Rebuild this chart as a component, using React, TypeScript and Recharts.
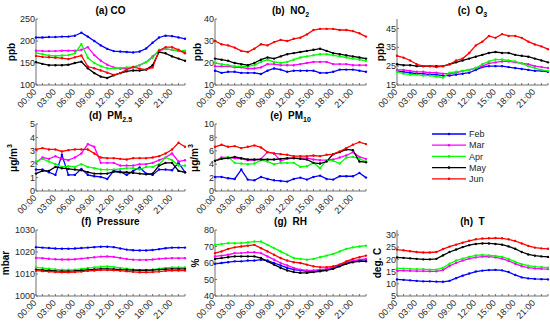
import React from 'react';
import { LineChart, Line, XAxis, YAxis } from 'recharts';

const HOURS = [0, 1, 2, 3, 4, 5, 6, 7, 8, 9, 10, 11, 12, 13, 14, 15, 16, 17, 18, 19, 20, 21, 22, 23];
const HOUR_LABELS = ['00:00', '03:00', '06:00', '09:00', '12:00', '15:00', '18:00', '21:00'];
const MONTHS = ['Feb', 'Mar', 'Apr', 'May', 'Jun'];
const COLORS: Record<string, string> = { Feb: '#0000ff', Mar: '#ff00ff', Apr: '#00ff00', May: '#000000', Jun: '#ff0000' };

// diurnal means, one value per hour
const CO = {
  Feb: [208, 208, 209, 209, 210, 210, 212, 219, 210, 200, 190, 182, 177, 176, 175, 174, 176, 183, 196, 208, 212, 211, 208, 205],
  Mar: [178, 177, 177, 177, 178, 178, 178, 180, 186, 168, 155, 146, 140, 137, 137, 140, 145, 152, 165, 178, 182, 180, 177, 175],
  Apr: [173, 170, 167, 166, 167, 168, 172, 193, 162, 150, 143, 138, 138, 139, 140, 141, 145, 152, 162, 180, 182, 180, 178, 178],
  May: [152, 148, 145, 145, 145, 146, 150, 153, 138, 127, 119, 116, 122, 127, 131, 133, 133, 135, 145, 175, 172, 165, 160, 155],
  Jun: [166, 164, 163, 162, 161, 159, 163, 167, 142, 138, 133, 128, 123, 127, 135, 141, 137, 135, 140, 178, 186, 186, 180, 172],
};
const NO2 = {
  Feb: [16.5, 15.5, 16, 16, 15.5, 15.5, 15.5, 15, 16.5, 17.5, 17, 16, 16.5, 16.5, 16.5, 16.5, 15.5, 15.5, 16, 17, 17, 17, 16.5, 16],
  Mar: [18.5, 18.5, 18.5, 18, 18, 17.5, 17.5, 18, 19.5, 19.5, 19, 19, 19, 19.5, 20, 20.5, 20.5, 20.5, 19.5, 19.5, 19.5, 19, 19, 19],
  Apr: [20, 19.5, 19, 18.5, 18.5, 18.5, 19, 20.5, 21.5, 20.5, 20, 20.5, 21.5, 22.5, 23, 23.5, 24, 24, 23.5, 23, 22.5, 22, 21.5, 21],
  May: [22, 21.5, 21, 20, 19.5, 19, 20, 21.5, 22.5, 22, 23, 24, 24.5, 25, 25.5, 26, 26.5, 25.5, 24.5, 24, 23.5, 23, 22.5, 22],
  Jun: [30, 28.5, 28, 27, 25.5, 25, 26.5, 28.5, 28, 29.5, 30.5, 30, 31, 31.5, 33, 35, 35.5, 35.5, 35.5, 35, 35, 34.5, 33.5, 32],
};
const O3 = {
  Feb: [22.5, 22, 21.5, 21, 21, 20.5, 20.5, 20, 20, 20.5, 21, 21.5, 23, 24.5, 25, 25, 25, 24.5, 24, 23.5, 23, 22.5, 22.5, 22],
  Mar: [23, 23, 22.5, 22, 22, 21.5, 21.5, 21, 21, 21.5, 22.5, 23, 24, 25, 26.5, 27, 27.5, 27.5, 27, 26.5, 26, 25, 24.5, 24],
  Apr: [22, 21, 20.5, 20.5, 20, 20, 19.5, 19, 21.5, 22, 22.5, 23, 24, 26, 27.5, 28.5, 28.5, 28, 27.5, 26.5, 25, 24, 23, 22.5],
  May: [26, 25.5, 25.5, 25, 25, 25, 25, 25, 26, 27, 28, 29, 30, 31, 32, 32.5, 32, 32, 31, 30.5, 30, 29, 28, 27],
  Jun: [30.5, 29.5, 28, 26, 25, 25, 24.5, 25, 26, 28, 29, 32, 36, 38, 41, 40, 42, 41, 41, 40, 38, 36.5, 35.5, 34],
};
const PM25 = {
  Feb: [1.6, 1.6, 1.4, 1.2, 2.7, 1.2, 1.2, 1.65, 1.2, 1.1, 1.05, 0.9, 1.5, 1.45, 1.2, 1.5, 1.75, 1.3, 1.2, 1.6, 1.6, 1.55, 2.1, 1.4],
  Mar: [2.1, 2.5, 2.4, 2.6, 2.4, 2.3, 2.5, 2.8, 3.5, 3.3, 2.1, 2.1, 2.1, 1.9, 1.9, 1.9, 2.0, 2.0, 2.1, 2.3, 2.5, 2.8, 2.2, 2.3],
  Apr: [2.2, 2.4, 2.2, 2.0, 1.8, 1.85, 1.8, 2.0, 1.8, 1.7, 1.6, 1.6, 1.6, 1.65, 1.7, 1.7, 1.6, 1.8, 1.8, 2.0, 2.5, 2.3, 1.9, 1.9],
  May: [1.3, 1.5, 1.5, 1.8, 1.7, 1.65, 1.6, 1.55, 1.4, 1.3, 1.3, 1.3, 1.45, 1.4, 1.4, 1.35, 1.3, 1.25, 1.3, 1.9, 2.1, 2.1, 1.5, 1.4],
  Jun: [3.1, 3.2, 3.1, 3.1, 2.95, 3.05, 3.1, 3.1, 3.1, 2.8, 2.5, 2.45, 2.45, 2.4, 2.35, 2.45, 2.45, 2.45, 2.5, 2.6, 2.8, 3.1, 3.6, 3.3],
};
const PM10 = {
  Feb: [2.1, 2.1, 1.9, 1.8, 3.2, 1.7, 1.6, 2.1, 1.8, 1.6, 1.5, 1.4, 1.8, 2.0, 1.7, 2.1, 2.3, 1.8, 1.7, 2.2, 2.2, 2.2, 2.7, 2.0],
  Mar: [4.5, 5.0, 5.0, 4.9, 4.8, 4.6, 4.6, 4.8, 5.8, 5.6, 4.5, 4.8, 4.9, 4.9, 4.9, 4.7, 4.6, 4.6, 4.7, 5.0, 5.3, 5.8, 5.1, 4.8],
  Apr: [4.6, 4.8, 5.1, 4.2, 4.1, 4.0, 4.1, 4.6, 4.4, 4.0, 4.2, 4.2, 4.2, 3.6, 3.7, 4.2, 3.4, 4.6, 4.5, 4.1, 5.0, 5.1, 4.8, 4.4],
  May: [4.5, 4.8, 4.9, 5.1, 4.9, 4.7, 4.7, 4.7, 4.7, 4.7, 4.8, 4.9, 4.9, 4.8, 4.7, 4.2, 4.1, 4.4, 5.5, 5.8, 6.2, 6.1, 4.4, 4.3],
  Jun: [6.6, 6.9, 6.6, 6.7, 6.4, 6.6, 6.8, 6.5, 5.8, 5.6, 5.5, 5.4, 5.2, 5.2, 5.2, 5.3, 5.2, 5.4, 5.5, 5.9, 6.4, 6.9, 7.3, 7.0],
};
const PRESSURE = {
  Feb: [1022.2, 1022, 1021.8, 1021.6, 1021.5, 1021.5, 1021.6, 1021.8, 1022, 1022.2, 1022.4, 1022.4, 1022.2, 1021.6, 1021.1, 1020.8, 1020.7, 1020.7, 1020.9, 1021.3, 1021.7, 1022, 1022, 1022],
  Mar: [1017.3, 1017.2, 1016.9, 1016.7, 1016.6, 1016.6, 1016.7, 1017, 1017.3, 1017.6, 1017.9, 1018, 1017.8, 1017.3, 1016.8, 1016.5, 1016.4, 1016.4, 1016.6, 1016.9, 1017.1, 1017.2, 1017.2, 1017.2],
  Apr: [1013, 1012.7, 1012.4, 1012.1, 1011.9, 1011.9, 1012, 1012.3, 1012.7, 1013, 1013.3, 1013.4, 1013.2, 1012.8, 1012.4, 1012, 1011.8, 1011.8, 1012, 1012.4, 1012.8, 1013, 1013, 1013],
  May: [1012, 1011.8, 1011.6, 1011.4, 1011.3, 1011.3, 1011.4, 1011.6, 1011.9, 1012.1, 1012.3, 1012.3, 1012.2, 1012, 1011.9, 1011.8, 1011.7, 1011.7, 1011.8, 1012, 1012.2, 1012.3, 1012.3, 1012.3],
  Jun: [1011.5, 1011.3, 1011.1, 1010.9, 1010.8, 1010.8, 1010.9, 1011.1, 1011.4, 1011.6, 1011.8, 1011.8, 1011.7, 1011.5, 1011.2, 1011, 1010.8, 1010.8, 1010.9, 1011.1, 1011.4, 1011.6, 1011.6, 1011.6],
};
const RH = {
  Feb: [59.5, 60, 60.5, 61, 61, 61.5, 61.5, 62, 61.5, 60, 58.5, 57, 56, 55.5, 55, 55, 55.5, 56, 57, 58.5, 60, 61, 61.5, 62],
  Mar: [64, 64.5, 65, 66, 66, 66.5, 66.5, 66, 64, 62, 60, 58.5, 57, 56, 55.5, 55.5, 56, 56.5, 57.5, 59, 60.5, 61.5, 62, 62.5],
  Apr: [71, 71.5, 72, 72, 72, 72.5, 73, 73, 71, 69, 67, 65, 63, 62.5, 62, 62.5, 63.5, 64.5, 65.5, 67, 68.5, 69.5, 70, 70.5],
  May: [62.5, 63, 63.5, 64, 64, 64, 64, 63, 61, 59, 57, 55.5, 54.5, 54, 54, 54.5, 55, 55.5, 56.5, 58, 59.5, 60.5, 61, 61],
  Jun: [66, 67, 68.5, 69.5, 70, 70.5, 71, 69, 67, 65, 63, 61.5, 60.5, 60, 59, 58, 57.5, 57.5, 58, 59, 61, 62.5, 63.5, 64.5],
};
const TEMP = {
  Feb: [11.8, 11.6, 11.4, 11.2, 11, 11, 10.9, 10.8, 11.2, 12.3, 13.3, 14.2, 15, 15.4, 15.6, 15.7, 15.5, 14.8, 13.6, 12.6, 12.2, 12, 11.9, 11.8],
  Mar: [15.5, 15.4, 15.3, 15.2, 15.2, 15.1, 15.1, 15.6, 17.3, 18.5, 19.5, 20.3, 20.8, 21.1, 21.1, 20.8, 20.3, 19.4, 18.2, 17.2, 16.6, 16.3, 16.1, 16],
  Apr: [16.3, 16.2, 16.1, 16, 16, 15.8, 15.8, 16.5, 18.2, 19.5, 20.3, 21, 21.6, 21.8, 21.6, 21.4, 21, 20.2, 19, 18, 17.4, 17, 16.8, 16.6],
  May: [20.8, 20.6, 20.4, 20.2, 20, 20, 20.2, 21.6, 23, 24, 25, 25.8, 26.3, 26.5, 26.5, 26.3, 26, 25.3, 24.3, 23, 22, 21.5, 21.2, 21],
  Jun: [24, 23.7, 23.3, 23, 22.8, 22.8, 23, 24.2, 25.2, 26, 26.8, 27.6, 28.2, 28.5, 28.6, 28.7, 28.6, 28.2, 27.5, 26.5, 25.5, 24.8, 24.5, 24.3],
};

const AXIS = '#707070';
const TEXT = '#262626';
const COLS = [{ l: 36, r: 185 }, { l: 215, r: 366 }, { l: 397, r: 548 }];
const ROWS = [{ t: 19, b: 85 }, { t: 124, b: 191 }, { t: 230, b: 296 }];

const HourTick = (props: any) => {
  const { x, y, payload } = props;
  const v = payload.value;
  if (v % 3 !== 0) return null;
  const ax = x + 1;
  const ay = y + 7.5;
  return (
    <text x={ax} y={ay} transform={`rotate(-45 ${ax} ${ay})`} textAnchor="end" fontSize={9} fill={TEXT}>
      {HOUR_LABELS[v / 3]}
    </text>
  );
};

type PanelProps = {
  series: Record<string, number[]>;
  col: number;
  row: number;
  domain: [number, number];
  ticks: number[];
  title: React.ReactNode;
  ylabel: React.ReactNode;
  ylabelX: number;
};

function Panel({ series, col, row, domain, ticks, title, ylabel, ylabelX }: PanelProps) {
  const { l, r } = COLS[col];
  const { t, b } = ROWS[row];
  const w = r - l;
  const h = b - t;
  const data = HOURS.map((hr, i) => {
    const rec: any = { hr };
    MONTHS.forEach((m) => (rec[m] = series[m][i]));
    return rec;
  });
  return (
    <>
      <div style={{ position: 'absolute', left: l - 40, top: t - 4 }}>
        <LineChart width={w + 44} height={h + 34} data={data} margin={{ top: 4, right: 4, bottom: 0, left: 0 }}>
          <XAxis dataKey="hr" type="number" domain={[0, 23]} ticks={HOURS} interval={0} height={30}
            tickSize={-2} tickMargin={2} stroke={AXIS} tick={<HourTick />} />
          <XAxis xAxisId="top" orientation="top" dataKey="hr" type="number" domain={[0, 23]} ticks={HOURS}
            interval={0} height={0} tickSize={-2} tick={false} stroke={AXIS} />
          <YAxis type="number" domain={domain} ticks={ticks} interval={0} width={40} allowDataOverflow
            tickSize={-2} tickMargin={3} stroke={AXIS} tick={{ fontSize: 9, fill: TEXT }} />
          <YAxis yAxisId="right" orientation="right" type="number" domain={domain} ticks={ticks} interval={0}
            width={0} allowDataOverflow tickSize={-2} tick={false} stroke={AXIS} />
          {MONTHS.map((m) => (
            <Line key={m} type="linear" dataKey={m} stroke={COLORS[m]} strokeWidth={1.3}
              dot={{ r: 1.2, fill: COLORS[m], stroke: COLORS[m], strokeWidth: 0 }}
              activeDot={false} isAnimationActive={false} />
          ))}
        </LineChart>
      </div>
      <div style={{ position: 'absolute', left: l, width: w, top: t - 14, height: 12, lineHeight: '12px',
        textAlign: 'center', fontSize: 10, fontWeight: 'bold', whiteSpace: 'pre', color: '#000' }}>
        {title}
      </div>
      <div style={{ position: 'absolute', left: ylabelX, top: (t + b) / 2, fontSize: 10, fontWeight: 'bold',
        whiteSpace: 'nowrap', color: '#000', transform: 'translate(-50%, -50%) rotate(-90deg)' }}>
        {ylabel}
      </div>
    </>
  );
}

const sub = { fontSize: 7, verticalAlign: 'sub', lineHeight: 0 } as React.CSSProperties;
const sup = { fontSize: 7, verticalAlign: 'super', lineHeight: 0 } as React.CSSProperties;
const ugm3 = <span>μg/m<span style={sup}>3</span></span>;

function MonthLegend() {
  return (
    <svg style={{ position: 'absolute', left: 428, top: 126 }} width={70} height={62}>
      {MONTHS.map((m, i) => {
        const y = 8 + i * 11.2;
        return (
          <g key={m}>
            <line x1={4} x2={38} y1={y} y2={y} stroke={COLORS[m]} strokeWidth={1.3} />
            <circle cx={21} cy={y} r={1.3} fill={COLORS[m]} />
            <text x={41} y={y + 3.2} fontSize={9} fill={TEXT}>{m}</text>
          </g>
        );
      })}
    </svg>
  );
}

export default function App() {
  return (
    <div style={{ position: 'relative', width: 550, height: 323, background: '#fff', overflow: 'hidden',
      fontFamily: '"Liberation Sans", Arial, sans-serif' }}>
      <style>{'body{margin:0}'}</style>
      <Panel series={CO} col={0} row={0} domain={[100, 250]} ticks={[100, 150, 200, 250]}
        title="(a) CO" ylabel="ppb" ylabelX={11} />
      <Panel series={NO2} col={1} row={0} domain={[10, 40]} ticks={[10, 20, 30, 40]}
        title={<>(b)  NO<span style={sub}>2</span></>} ylabel="ppb" ylabelX={197} />
      <Panel series={O3} col={2} row={0} domain={[15, 50]} ticks={[15, 25, 35, 45]}
        title={<>(c)  O<span style={sub}>3</span></>} ylabel="ppb" ylabelX={380} />
      <Panel series={PM25} col={0} row={1} domain={[0, 5]} ticks={[0, 1, 2, 3, 4, 5]}
        title={<>(d)  PM<span style={sub}>2.5</span></>} ylabel={ugm3} ylabelX={13} />
      <Panel series={PM10} col={1} row={1} domain={[0, 10]} ticks={[0, 2, 4, 6, 8, 10]}
        title={<>(e)  PM<span style={sub}>10</span></>} ylabel={ugm3} ylabelX={194} />
      <Panel series={PRESSURE} col={0} row={2} domain={[1000, 1030]} ticks={[1000, 1010, 1020, 1030]}
        title="(f)  Pressure" ylabel="mbar" ylabelX={5} />
      <Panel series={RH} col={1} row={2} domain={[40, 80]} ticks={[40, 50, 60, 70, 80]}
        title="(g)  RH" ylabel="%" ylabelX={195} />
      <Panel series={TEMP} col={2} row={2} domain={[5, 32]} ticks={[5, 10, 15, 20, 25, 30]}
        title="(h)  T" ylabel="deg. C" ylabelX={377} />
      <MonthLegend />
    </div>
  );
}
